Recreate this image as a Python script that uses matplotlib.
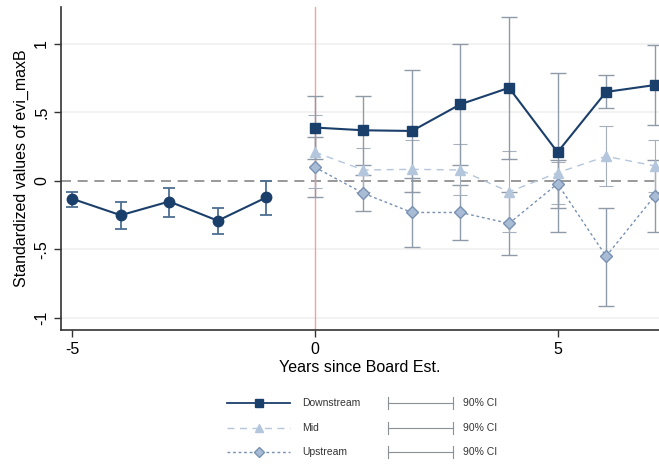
import matplotlib
matplotlib.use("Agg")
import matplotlib.pyplot as plt
from matplotlib.lines import Line2D

plt.rcParams['font.family'] = ['Liberation Sans', 'DejaVu Sans']

# ---- data ----
pre_years = [-5, -4, -3, -2, -1]
pre_vals = [-0.13, -0.25, -0.15, -0.29, -0.12]
pre_lo = [-0.19, -0.35, -0.26, -0.39, -0.25]
pre_hi = [-0.08, -0.15, -0.05, -0.20, 0.00]

post_years = [0, 1, 2, 3, 4, 5, 6, 7]
down_vals = [0.39, 0.37, 0.365, 0.56, 0.68, 0.21, 0.65, 0.70]
down_lo = [0.16, 0.12, -0.08, 0.12, 0.16, -0.37, 0.53, 0.41]
down_hi = [0.62, 0.62, 0.81, 1.00, 1.20, 0.79, 0.77, 0.99]

mid_vals = [0.21, 0.08, 0.085, 0.08, -0.08, 0.06, 0.18, 0.11]
mid_lo = [-0.05, -0.08, -0.08, -0.10, -0.37, -0.17, -0.04, -0.08]
mid_hi = [0.48, 0.24, 0.30, 0.27, 0.22, 0.14, 0.40, 0.30]

up_vals = [0.10, -0.09, -0.23, -0.23, -0.31, -0.02, -0.55, -0.11]
up_lo = [-0.12, -0.22, -0.48, -0.43, -0.54, -0.20, -0.91, -0.37]
up_hi = [0.32, 0.04, 0.02, -0.03, -0.08, 0.15, -0.20, 0.15]

xticks = [-5, 0, 5]
yticks = [-1, -0.5, 0, 0.5, 1]
ytick_labels = ["-1", "-.5", "0", ".5", "1"]
series_labels = ["Downstream", "Mid", "Upstream"]
ci_label = "90% CI"

# ---- style ----
c_down = "#1b3f6b"
c_mid = "#b4c6dc"
c_up = "#7891b3"
c_up_fill = "#a9bcd6"
c_ci = "#8f9aa8"

fig = plt.figure(figsize=(6.59, 4.68), dpi=100)
ax = fig.add_axes([61/659, 1-330/468, 1-61/659, (330-7)/468])

for yv in [-1, -0.5, 0.5, 1]:
    ax.axhline(yv, color="#f0f0f0", lw=1.2, zorder=0)
ax.axhline(0, color="#888888", lw=1.2, ls=(0, (6, 4)), zorder=1)
ax.axvline(0, color="#f4a0a0", lw=1.0, zorder=1)

def err(vals, lo, hi):
    return [[v - l for v, l in zip(vals, lo)], [h - v for v, h in zip(vals, hi)]]

# CI bars
ax.errorbar(post_years, up_vals, yerr=err(up_vals, up_lo, up_hi), fmt="none",
            ecolor=c_ci, elinewidth=1.0, capsize=6, capthick=1.0, zorder=2)
ax.errorbar(post_years, mid_vals, yerr=err(mid_vals, mid_lo, mid_hi), fmt="none",
            ecolor="#a6b0bc", elinewidth=0.8, capsize=5, capthick=0.8, zorder=2)
ax.errorbar(post_years, down_vals, yerr=err(down_vals, down_lo, down_hi), fmt="none",
            ecolor=c_ci, elinewidth=1.0, capsize=6, capthick=1.0, zorder=2)
ax.errorbar(pre_years, pre_vals, yerr=err(pre_vals, pre_lo, pre_hi), fmt="none",
            ecolor="#4d6e92", elinewidth=1.3, capsize=4.5, capthick=1.3, zorder=2)

# series lines
ax.plot(post_years, up_vals, color=c_up, lw=1.0, ls=(0, (2, 2)), marker="D",
        ms=6.5, mfc=c_up_fill, mec=c_up, mew=1.0, zorder=3)
ax.plot(post_years, mid_vals, color=c_mid, lw=1.0, ls=(0, (5, 4)), marker="^",
        ms=7, mfc=c_mid, mec=c_mid, zorder=3)
ax.plot(post_years, down_vals, color=c_down, lw=1.5, marker="s",
        ms=7, mfc=c_down, mec=c_down, zorder=4)
ax.plot(pre_years, pre_vals, color=c_down, lw=1.5, marker="o",
        ms=7.5, mfc=c_down, mec=c_down, zorder=4)

ax.set_xlim(-5.23, 7.09)
ax.set_ylim(-1.088, 1.27)
ax.set_xticks(xticks)
ax.set_xticklabels([str(t) for t in xticks], fontsize=11.5)
ax.set_yticks(yticks)
ax.set_yticklabels(ytick_labels, fontsize=11.5, rotation=90, va="center")
ax.tick_params(axis="both", length=5, width=1, color="#333333")
for s in ["top", "right"]:
    ax.spines[s].set_visible(False)
for s in ["left", "bottom"]:
    ax.spines[s].set_color("#333333")
    ax.spines[s].set_linewidth(1.2)
ax.set_xlabel("Years since Board Est.", fontsize=11.5, labelpad=2)
ax.set_ylabel("Standardized values of evi_maxB", fontsize=11.5, labelpad=4)

# ---- legend (manual) ----
rows_y = [1-403/468, 1-428/468, 1-452/468]
styles = [
    dict(color=c_down, lw=1.3, ls="-", marker="s", mfc=c_down, mec=c_down, ms=6),
    dict(color=c_mid, lw=1.0, ls=(0, (5, 4)), marker="^", mfc=c_mid, mec=c_mid, ms=6),
    dict(color=c_up, lw=1.0, ls=(0, (2, 2)), marker="D", mfc=c_up_fill, mec=c_up, ms=5.5),
]
x0, x1, xm = 227/659, 290/659, 259/659
for yy, st, lab in zip(rows_y, styles, series_labels):
    st = dict(st)
    marker = st.pop("marker"); mfc = st.pop("mfc"); mec = st.pop("mec"); ms = st.pop("ms")
    fig.add_artist(Line2D([x0, x1], [yy, yy], transform=fig.transFigure, **st))
    fig.add_artist(Line2D([xm], [yy], transform=fig.transFigure, marker=marker,
                          mfc=mfc, mec=mec, ms=ms, ls="none"))
    fig.text(302/659, yy, lab, fontsize=7.5, va="center", ha="left", color="#333333")
    cx0, cx1 = 388/659, 453/659
    fig.add_artist(Line2D([cx0, cx1], [yy, yy], transform=fig.transFigure,
                          color="#8a8f96", lw=0.8))
    for cx in (cx0, cx1):
        fig.add_artist(Line2D([cx, cx], [yy - 6/468, yy + 6/468], transform=fig.transFigure,
                              color="#8a8f96", lw=0.8))
    fig.text(463/659, yy, ci_label, fontsize=7.5, va="center", ha="left", color="#333333")

fig.savefig("out.png", dpi=100)
